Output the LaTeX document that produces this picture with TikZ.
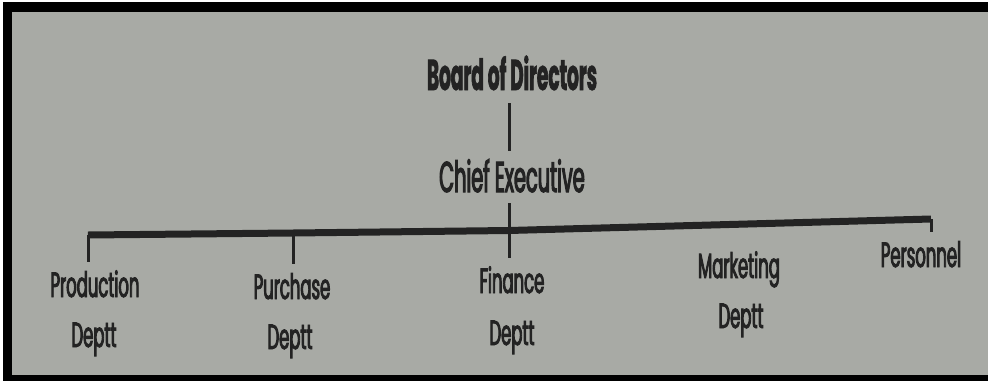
\documentclass[tikz,border=0pt]{standalone}
\usepackage{fontspec}
\newfontfamily\deptfont[FakeStretch=0.47, FakeBold=2.5]{Poppins}
\newfontfamily\headfont[FakeStretch=0.45, FakeBold=2.5]{Poppins}
\newfontfamily\boardfont[FakeStretch=0.43, FakeBold=1.5]{Poppins}
\definecolor{page}{RGB}{168,170,165}
\definecolor{ink}{RGB}{35,35,35}
\begin{document}
\begin{tikzpicture}[x=1pt,y=-1pt,
  head/.style={font=\headfont\fontsize{43}{43}\selectfont, text=ink, anchor=base, inner sep=0pt},
  dept/.style={font=\deptfont\fontsize{35}{35}\selectfont, text=ink, anchor=base, text height=24pt, text depth=0pt, inner ysep=11pt, inner xsep=0pt},
  thin/.style={draw=ink, line width=3pt},
  bar/.style={draw=ink, line width=7pt, line join=round}]
\useasboundingbox (0,0) rectangle (988,381);
\fill[white] (0,0) rectangle (988,381);
\fill[black] (3,2) rectangle (988,381);
\fill[page] (12,12) rectangle (988,375);
% texts
\node[head, text height=30pt, text depth=0pt, inner ysep=13pt, font=\boardfont\bfseries\fontsize{43}{43}\selectfont] (board) at (512,90) {Board of Directors};
\node[head, text height=30pt, text depth=0pt, inner ysep=11pt] (chief) at (512,192) {Chief Executive};
\node[dept] (prod) at (95,297) {Production};
\node[dept] (prodd) at (94,347) {Deptt};
\node[dept] (purch) at (292,299) {Purchase};
\node[dept] (purchd) at (290,349) {Deptt};
\node[dept] (fin) at (512,293) {Finance};
\node[dept] (find) at (512,345) {Deptt};
\node[dept] (mkt) at (739,278) {Marketing};
\node[dept] (mktd) at (741,328) {Deptt};
\node[dept] (pers) at (921,267) {Personnel};
% bar points
\coordinate (bl) at (88,235);
\coordinate (bp) at (293,233);
\coordinate (bf) at (509,230.5);
\coordinate (br) at (931,219);
\draw[bar] (bl) -- (bp) -- (bf) -- (br);
\draw[thin] (bf |- board.south) -- (bf |- chief.north);
\draw[thin] (bf |- chief.south) -- (bf |- fin.north);
\draw[thin] (bl) -- (bl |- prod.north);
\draw[thin] (bp) -- (bp |- purch.north);
\draw[thin] (br) -- (br |- pers.north);
\end{tikzpicture}
\end{document}
